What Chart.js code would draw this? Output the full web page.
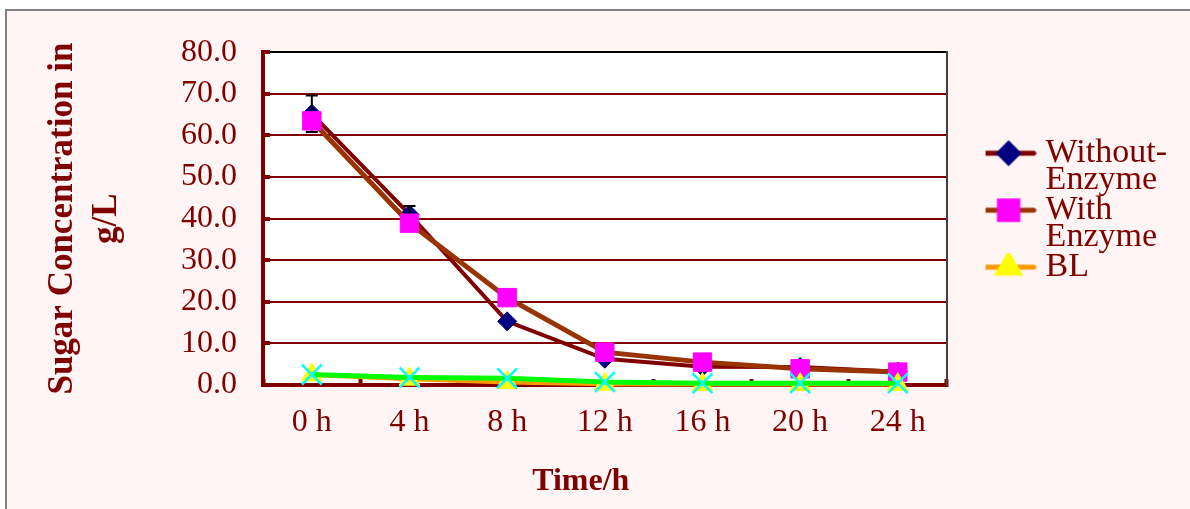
<!DOCTYPE html>
<html>
<head>
<meta charset="utf-8">
<script src="https://cdn.jsdelivr.net/npm/chart.js"></script>
<style>
  body { margin: 0; background: #fff; }
  #frame {
    position: absolute; left: 5px; top: 9px; width: 1185px; height: 500px;
    border-left: 2px solid #808080; border-top: 2px solid #808080;
    background: #fff5f5; box-sizing: border-box;
  }
  #myChart { position: absolute; left: 0; top: 0; }
</style>
</head>
<body>
<div id="frame"></div>
<canvas id="myChart" width="1190" height="509"></canvas>
<script>
const hours = ["0 h", "4 h", "8 h", "12 h", "16 h", "20 h", "24 h"];
const withoutEnzyme = [65.2, 41.0, 15.3, 6.3, 4.4, 4.3, 3.2];
const withoutErr = [4.4, 2.0, 0, 0, 0, 0, 0];
const withEnzyme = [63.5, 38.9, 21.0, 7.9, 5.5, 3.9, 3.1];
const bl = [2.4, 1.4, 0.6, 0.2, 0.1, 0.1, 0.1];
const blMix = [2.5, 1.8, 1.6, 0.7, 0.4, 0.4, 0.4];
const legendText = [["Without-", "Enzyme"], ["With", "Enzyme"], ["BL"]];

const red = '#800000';
const serif = "'Liberation Serif', serif";

// little line + marker pictures for the legend
function legendIcon(lineColor, style, radius, fill) {
    const c = document.createElement('canvas');
    c.width = 56; c.height = 28;
    const g = c.getContext('2d');
    g.strokeStyle = lineColor;
    g.lineWidth = 5;
    g.lineCap = 'round';
    g.beginPath();
    g.moveTo(3, 14); g.lineTo(53, 14);
    g.stroke();
    g.fillStyle = fill;
    g.strokeStyle = fill;
    Chart.helpers.drawPoint(g, {pointStyle: style, radius: radius, borderWidth: 1, rotation: 0}, 28, 14);
    return c;
}

const errorBars = {
    id: 'errorBars',
    afterDatasetDraw(chart, args) {
        if (args.index !== 0) return;
        const ctx = chart.ctx;
        const y = chart.scales.y;
        ctx.save();
        ctx.strokeStyle = '#000';
        ctx.lineWidth = 2;
        args.meta.data.forEach((pt, i) => {
            const e = withoutErr[i];
            if (!e) return;
            const top = y.getPixelForValue(withoutEnzyme[i] + e);
            const bot = y.getPixelForValue(withoutEnzyme[i] - e);
            ctx.beginPath();
            ctx.moveTo(pt.x, top); ctx.lineTo(pt.x, bot);
            ctx.moveTo(pt.x - 6, top); ctx.lineTo(pt.x + 6, top);
            ctx.moveTo(pt.x - 6, bot); ctx.lineTo(pt.x + 6, bot);
            ctx.stroke();
        });
        ctx.restore();
    }
};

const plotBg = {
    id: 'plotBg',
    beforeDraw(chart) {
        const a = chart.chartArea;
        chart.ctx.save();
        chart.ctx.fillStyle = '#fff';
        chart.ctx.fillRect(a.left, a.top, a.right - a.left, a.bottom - a.top);
        chart.ctx.restore();
    }
};

const ctx = document.getElementById('myChart').getContext('2d');
const myChart = new Chart(ctx, {
    type: 'line',
    data: {
        labels: hours,
        datasets: [{
            label: 'Without-Enzyme',
            data: withoutEnzyme,
            borderColor: red,
            borderWidth: 4,
            pointStyle: 'rectRot',
            pointRadius: 9.5,
            pointBackgroundColor: '#000080',
            pointBorderColor: '#000080',
            pointBorderWidth: 1,
            tension: 0,
            order: 4,
            clip: false
        }, {
            label: 'With Enzyme',
            data: withEnzyme,
            borderColor: '#993300',
            borderWidth: 5,
            pointStyle: 'rect',
            pointRadius: 13,
            pointBackgroundColor: '#ff00ff',
            pointBorderColor: '#ff00ff',
            pointBorderWidth: 1,
            tension: 0,
            order: 3,
            clip: false
        }, {
            label: 'BL',
            data: bl,
            borderColor: '#ff9900',
            borderWidth: 4,
            pointStyle: 'triangle',
            pointRadius: 12,
            pointBackgroundColor: '#ffff00',
            pointBorderColor: '#ffff00',
            pointBorderWidth: 1,
            tension: 0,
            order: 2,
            clip: false
        }, {
            label: 'BL + Enzyme',
            data: blMix,
            borderColor: '#00ff00',
            borderWidth: 5,
            pointStyle: 'crossRot',
            pointRadius: 14,
            pointBorderColor: '#00ffff',
            pointBorderWidth: 2.5,
            tension: 0,
            order: 1,
            clip: false
        }]
    },
    options: {
        responsive: false,
        animation: false,
        layout: { padding: { top: 50, left: 0, right: 13, bottom: 0 } },
        plugins: {
            tooltip: { enabled: false },
            legend: {
                position: 'right',
                align: 'start',
                fullSize: false,
                title: { display: true, text: '', font: { size: 10, lineHeight: 1 }, padding: { top: 0, bottom: 71 } },
                labels: {
                    usePointStyle: true,
                    pointStyleWidth: 40,
                    padding: 3,
                    color: red,
                    font: { family: serif, size: 34, lineHeight: 0.794 },
                    filter: (item) => item.datasetIndex < 3,
                    sort: (a, b) => a.datasetIndex - b.datasetIndex,
                    generateLabels(chart) {
                        const items = Chart.defaults.plugins.legend.labels.generateLabels(chart);
                        const icons = [
                            legendIcon(red, 'rectRot', 9.5, '#000080'),
                            legendIcon('#993300', 'rect', 13, '#ff00ff'),
                            legendIcon('#ff9900', 'triangle', 12, '#ffff00')
                        ];
                        items.forEach(it => {
                            if (it.datasetIndex < 3) {
                                it.text = legendText[it.datasetIndex];
                                it.pointStyle = icons[it.datasetIndex];
                            }
                        });
                        return items;
                    }
                }
            }
        },
        scales: {
            x: {
                offset: true,
                grid: {
                    display: true,
                    offset: true,
                    drawOnChartArea: false,
                    tickLength: -6,
                    tickWidth: 4,
                    tickColor: red
                },
                border: { display: true, color: red, width: 4 },
                ticks: {
                    color: red,
                    padding: 24,
                    font: { family: serif, size: 32 }
                },
                title: {
                    display: true,
                    // trailing blanks nudge the title left, as in the original
                    text: 'Time/h      ',
                    color: red,
                    font: { family: serif, size: 32, weight: 'bold', lineHeight: 1.2 },
                    padding: { top: 0, bottom: 8 }
                },
                afterFit(scale) { scale.height = 124; }
            },
            y: {
                min: 0,
                max: 80,
                grid: {
                    color: (c) => c.tick && c.tick.value === 80 ? '#000' : red,
                    lineWidth: 2,
                    tickLength: -7,
                    tickWidth: 4,
                    tickColor: red
                },
                border: { display: true, color: red, width: 4 },
                ticks: {
                    stepSize: 10,
                    color: red,
                    padding: 33,
                    font: { family: serif, size: 32 },
                    callback: (v) => v.toFixed(1)
                },
                title: {
                    display: true,
                    text: ['Sugar Concentration in', 'g/L'],
                    color: red,
                    font: { family: serif, size: 35, weight: 'bold', lineHeight: 1.26 },
                    padding: { top: 41, bottom: 0 }
                },
                afterFit(scale) { scale.width = 263; }
            },
            yR: {
                position: 'right',
                min: 0,
                max: 80,
                grid: { display: false },
                ticks: { display: false },
                border: { display: true, color: '#404040', width: 2 },
                afterFit(scale) { scale.width = 39; }
            }
        }
    },
    plugins: [plotBg, errorBars]
});
</script>
</body>
</html>
